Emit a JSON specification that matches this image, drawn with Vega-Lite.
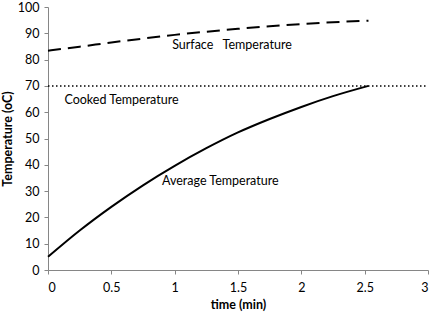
{
  "$schema": "https://vega.github.io/schema/vega-lite/v6.json",
  "width": 380,
  "height": 263,
  "autosize": "none",
  "padding": {"left": 48, "top": 7, "right": 4, "bottom": 43},
  "background": "white",
  "config": {
    "view": {"stroke": null},
    "font": "Lato",
    "axis": {
      "grid": false,
      "domainColor": "#868686",
      "tickColor": "#868686",
      "tickSize": 4,
      "labelFont": "Lato",
      "labelFontSize": 12.5,
      "labelColor": "#000000",
      "labelOverlap": false,
      "titleFont": "Lato",
      "titleFontSize": 12.5,
      "titleFontWeight": "bold",
      "titleColor": "#000000"
    }
  },
  "datasets": {
    "surface": [
      {"t": 0.0, "temp": 83.4},
      {"t": 0.25, "temp": 84.9},
      {"t": 0.5, "temp": 86.5},
      {"t": 0.75, "temp": 88.0},
      {"t": 1.0, "temp": 89.4},
      {"t": 1.25, "temp": 90.6},
      {"t": 1.5, "temp": 91.7},
      {"t": 1.75, "temp": 92.7},
      {"t": 2.0, "temp": 93.5},
      {"t": 2.25, "temp": 94.2},
      {"t": 2.53, "temp": 94.8}
    ],
    "average": [
      {"t": 0.0, "temp": 5.0},
      {"t": 0.25, "temp": 15.0},
      {"t": 0.5, "temp": 24.0},
      {"t": 0.75, "temp": 32.2},
      {"t": 1.0, "temp": 39.6},
      {"t": 1.25, "temp": 46.3},
      {"t": 1.5, "temp": 52.3},
      {"t": 1.75, "temp": 57.4},
      {"t": 2.0, "temp": 62.0},
      {"t": 2.25, "temp": 66.1},
      {"t": 2.53, "temp": 70.0}
    ],
    "cooked": [
      {"t": 0, "temp": 70},
      {"t": 3, "temp": 70}
    ],
    "labels": [
      {"t": 0.98, "temp": 85.5, "label": "Surface\u00a0\u00a0\u00a0Temperature"},
      {"t": 0.13, "temp": 64.6, "label": "Cooked Temperature"},
      {"t": 0.9, "temp": 33.8, "label": "Average Temperature"}
    ]
  },
  "encoding": {
    "x": {"field": "t", "type": "quantitative", "scale": {"domain": [0, 3], "nice": false},
      "axis": {"tickCount": 6, "format": "~g", "title": "time (min)", "labelPadding": 7, "titlePadding": 5, "labelOverlap": false}},
    "y": {"field": "temp", "type": "quantitative", "scale": {"domain": [0, 100], "nice": false},
      "axis": {"tickCount": 11, "title": "Temperature (oC)", "labelPadding": 5, "titlePadding": 3, "labelOverlap": false}}
  },
  "layer": [
    {
      "data": {"name": "cooked"},
      "mark": {"type": "line", "color": "#000000", "strokeWidth": 1.5, "strokeDash": [1.5, 2.5]}
    },
    {
      "data": {"name": "surface"},
      "mark": {"type": "line", "color": "#000000", "strokeWidth": 2, "strokeDash": [13, 7], "interpolate": "monotone"}
    },
    {
      "data": {"name": "average"},
      "mark": {"type": "line", "color": "#000000", "strokeWidth": 2, "interpolate": "monotone"}
    },
    {
      "data": {"name": "labels"},
      "mark": {"type": "text", "align": "left", "baseline": "middle", "font": "Lato", "fontSize": 12.5, "color": "#000000"},
      "encoding": {
        "text": {"field": "label"}
      }
    }
  ]
}
